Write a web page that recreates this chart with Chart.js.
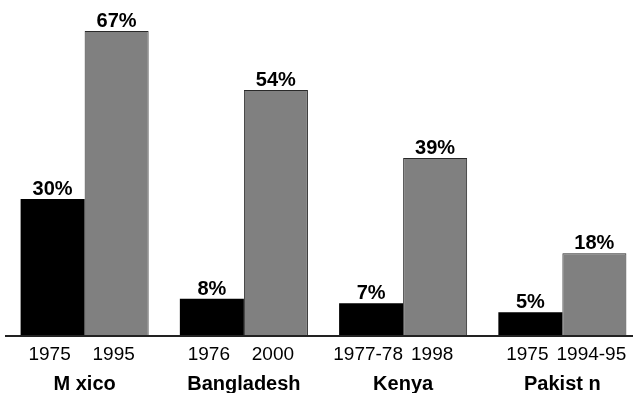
<!DOCTYPE html>
<html>
<head>
<meta charset="utf-8">
<script src="https://cdn.jsdelivr.net/npm/chart.js@4"></script>
<style>
  html, body { margin: 0; padding: 0; background: #fff; overflow: hidden; }
  #wrap { width: 633px; height: 393px; overflow: hidden; position: relative; }
  #box { width: 642px; height: 393px; }
</style>
</head>
<body>
<div id="wrap"><div id="box"><canvas id="c"></canvas></div></div>
<script>
// Countries and survey years
const countries = ['M xico', 'Bangladesh', 'Kenya', 'Pakist n'];
const earlyYears = ['1975', '1976', '1977-78', '1975'];
const lateYears = ['1995', '2000', '1998', '1994-95'];
// Share (%) in each survey
const earlyValues = [30, 8, 7, 5];
const lateValues = [67, 54, 39, 18];

const FONT = '"Liberation Sans", Arial, sans-serif';

const labelPlugin = {
  id: 'barLabels',
  afterDatasetsDraw(chart) {
    const ctx = chart.ctx;
    const yZero = chart.scales.y.getPixelForValue(0);
    ctx.save();
    // baseline
    ctx.strokeStyle = '#222';
    ctx.lineWidth = 2;
    ctx.beginPath();
    ctx.moveTo(5, yZero + 1);
    ctx.lineTo(chart.width, yZero + 1);
    ctx.stroke();

    ctx.fillStyle = '#000';
    ctx.textAlign = 'center';
    ctx.textBaseline = 'alphabetic';
    const yearSets = [earlyYears, lateYears];
    chart.data.datasets.forEach((ds, di) => {
      const meta = chart.getDatasetMeta(di);
      meta.data.forEach((bar, i) => {
        ctx.font = 'bold 20px ' + FONT;
        ctx.fillText(ds.data[i] + '%', bar.x, bar.y - 4);
        ctx.font = '19px ' + FONT;
        ctx.fillText(yearSets[di][i], bar.x - 3, yZero + 25);
      });
    });
    const xs = chart.scales.x;
    ctx.font = 'bold 20px ' + FONT;
    countries.forEach((name, i) => {
      ctx.fillText(name, xs.getPixelForValue(i), yZero + 55);
    });
    ctx.restore();
  }
};

new Chart(document.getElementById('c'), {
  type: 'bar',
  data: {
    labels: countries,
    datasets: [
      {
        data: earlyValues,
        backgroundColor: '#000000',
        borderColor: '#000000',
        borderWidth: 0
      },
      {
        data: lateValues,
        backgroundColor: '#808080',
        borderColor: '#2a2a2a',
        borderWidth: 1
      }
    ]
  },
  options: {
    responsive: true,
    maintainAspectRatio: false,
    animation: false,
    layout: { padding: { left: 5, right: 0, top: 31, bottom: 58 } },
    datasets: {
      bar: { categoryPercentage: 0.804, barPercentage: 1.0 }
    },
    scales: {
      x: { display: false },
      y: { display: false, min: 0, max: 67 }
    },
    plugins: {
      legend: { display: false },
      tooltip: { enabled: false }
    }
  },
  plugins: [labelPlugin]
});
</script>
</body>
</html>
